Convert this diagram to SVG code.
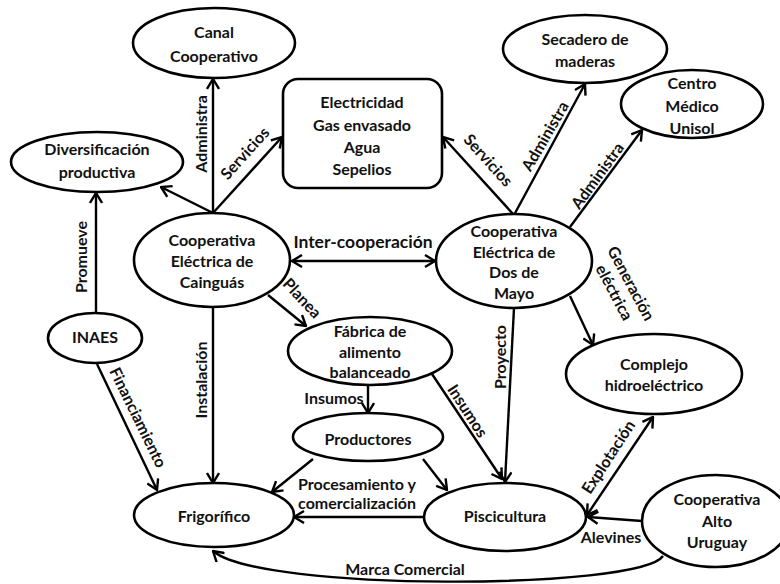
<svg xmlns="http://www.w3.org/2000/svg" width="780" height="584" viewBox="0 0 780 584">
<style>
.n{fill:#fff;stroke:#000;stroke-width:2.6}
.t{font-family:Lato,"Open Sans","Liberation Sans",sans-serif;font-weight:bold;font-size:16px;fill:#111;text-anchor:middle}
.l{font-family:Lato,"Open Sans","Liberation Sans",sans-serif;font-weight:bold;font-size:16px;fill:#111;text-anchor:middle}
.c{fill:none;stroke:#000;stroke-width:2.4}
</style>
<defs>
<marker id="a" viewBox="0 0 12 14" refX="11" refY="7" markerWidth="12" markerHeight="14" markerUnits="userSpaceOnUse" orient="auto-start-reverse">
<path d="M1,1 L11,7 L1,13" fill="none" stroke="#000" stroke-width="2.4"/>
</marker>
</defs>
<rect width="780" height="584" fill="#fff"/>
<g id="connectors">
<line class="c" x1="213" y1="213" x2="213" y2="79" marker-end="url(#a)"/>
<line class="c" x1="213" y1="213" x2="282" y2="137" marker-end="url(#a)"/>
<line class="c" x1="213" y1="213" x2="161" y2="187" marker-end="url(#a)"/>
<line class="c" x1="96" y1="313" x2="96" y2="193" marker-end="url(#a)"/>
<line class="c" x1="97" y1="364" x2="157" y2="490" marker-end="url(#a)"/>
<line class="c" x1="213" y1="307" x2="213" y2="483" marker-end="url(#a)"/>
<line class="c" x1="292" y1="261" x2="435" y2="261" marker-start="url(#a)" marker-end="url(#a)"/>
<line class="c" x1="268" y1="295" x2="306" y2="326" marker-end="url(#a)"/>
<line class="c" x1="514" y1="215" x2="443" y2="137" marker-end="url(#a)"/>
<line class="c" x1="514" y1="215" x2="585" y2="84" marker-end="url(#a)"/>
<line class="c" x1="570" y1="227" x2="642" y2="130" marker-end="url(#a)"/>
<line class="c" x1="570" y1="296" x2="593" y2="345" marker-end="url(#a)"/>
<line class="c" x1="514" y1="308" x2="505" y2="482" marker-end="url(#a)"/>
<line class="c" x1="368" y1="385" x2="368" y2="413" marker-end="url(#a)"/>
<line class="c" x1="432" y1="374" x2="502" y2="479" marker-end="url(#a)"/>
<line class="c" x1="313" y1="459" x2="272" y2="492" marker-end="url(#a)"/>
<line class="c" x1="423" y1="459" x2="447" y2="490" marker-end="url(#a)"/>
<line class="c" x1="424" y1="517" x2="294" y2="517" marker-end="url(#a)"/>
<line class="c" x1="653" y1="417" x2="587" y2="515" marker-start="url(#a)" marker-end="url(#a)"/>
<line class="c" x1="642" y1="521" x2="588" y2="517" marker-end="url(#a)"/>
<path class="c" d="M663,556 C640,590 260,592 213,551" marker-end="url(#a)"/>
<text class="l" transform="translate(207,134) rotate(-90)">Administra</text>
<text class="l" transform="translate(249,157) rotate(-48)">Servicios</text>
<text class="l" transform="translate(87,257) rotate(-90)">Promueve</text>
<text class="l" transform="translate(133,420) rotate(64)">Financiamiento</text>
<text class="l" transform="translate(207,380) rotate(-90)">Instalación</text>
<text class="l" x="363" y="248" style="font-size:17.5px">Inter-cooperación</text>
<text class="l" transform="translate(298,302) rotate(47)">Planea</text>
<text class="l" transform="translate(484,164) rotate(48)">Servicios</text>
<text class="l" transform="translate(550,139) rotate(-60)">Administra</text>
<text class="l" transform="translate(602,179) rotate(-54)">Administra</text>
<text class="l" transform="translate(626,286) rotate(62)"><tspan x="0" dy="0">Generación</tspan><tspan x="0" dy="19">eléctrica</tspan></text>
<text class="l" transform="translate(506,357) rotate(-90)">Proyecto</text>
<text class="l" x="334" y="404">Insumos</text>
<text class="l" transform="translate(463,414) rotate(57)">Insumos</text>
<text class="l" x="357" y="490">Procesamiento y</text>
<text class="l" x="357" y="509">comercialización</text>
<text class="l" transform="translate(613,460) rotate(-57)">Explotación</text>
<text class="l" x="611" y="543">Alevines</text>
<text class="l" x="405" y="575">Marca Comercial</text>
</g>
<g id="canal"><ellipse class="n" cx="214" cy="43" rx="81" ry="35"/><text class="t" x="214" y="38">Canal</text><text class="t" x="214" y="62">Cooperativo</text></g>
<g id="servicios"><rect class="n" x="283" y="79" width="159" height="109" rx="15"/><text class="t" x="362" y="108">Electricidad</text><text class="t" x="362" y="131">Gas envasado</text><text class="t" x="362" y="153">Agua</text><text class="t" x="362" y="175">Sepelios</text></g>
<g id="diversificacion"><ellipse class="n" cx="97" cy="162" rx="86" ry="30"/><text class="t" x="97" y="155">Diversificación</text><text class="t" x="97" y="178">productiva</text></g>
<g id="secadero"><ellipse class="n" cx="585" cy="49" rx="82" ry="34"/><text class="t" x="585" y="45">Secadero de</text><text class="t" x="585" y="67">maderas</text></g>
<g id="centro"><ellipse class="n" cx="692" cy="104" rx="71" ry="34"/><text class="t" x="692" y="89">Centro</text><text class="t" x="692" y="112">Médico</text><text class="t" x="692" y="134">Unisol</text></g>
<g id="cainguas"><ellipse class="n" cx="212" cy="260" rx="78" ry="47"/><text class="t" x="212" y="246">Cooperativa</text><text class="t" x="212" y="267">Eléctrica de</text><text class="t" x="212" y="288">Cainguás</text></g>
<g id="dosdemayo"><ellipse class="n" cx="514" cy="261" rx="78" ry="47"/><text class="t" x="514" y="237">Cooperativa</text><text class="t" x="514" y="258">Eléctrica de</text><text class="t" x="514" y="278">Dos de</text><text class="t" x="514" y="299">Mayo</text></g>
<g id="inaes"><ellipse class="n" cx="95" cy="338" rx="47" ry="25"/><text class="t" x="95" y="343">INAES</text></g>
<g id="fabrica"><ellipse class="n" cx="370" cy="351" rx="82" ry="34"/><text class="t" x="370" y="337">Fábrica de</text><text class="t" x="370" y="358">alimento</text><text class="t" x="370" y="378">balanceado</text></g>
<g id="complejo"><ellipse class="n" cx="654" cy="374" rx="88" ry="40"/><text class="t" x="654" y="370">Complejo</text><text class="t" x="654" y="391">hidroeléctrico</text></g>
<g id="productores"><ellipse class="n" cx="368" cy="437" rx="75" ry="24"/><text class="t" x="368" y="445">Productores</text></g>
<g id="frigorifico"><ellipse class="n" cx="214" cy="515" rx="80" ry="32"/><text class="t" x="214" y="522">Frigorífico</text></g>
<g id="piscicultura"><ellipse class="n" cx="505" cy="517" rx="81" ry="34"/><text class="t" x="505" y="522">Piscicultura</text></g>
<g id="altouruguay"><ellipse class="n" cx="716" cy="521" rx="74" ry="46"/><text class="t" x="717" y="505">Cooperativa</text><text class="t" x="717" y="527">Alto</text><text class="t" x="717" y="548">Uruguay</text></g>
</svg>
